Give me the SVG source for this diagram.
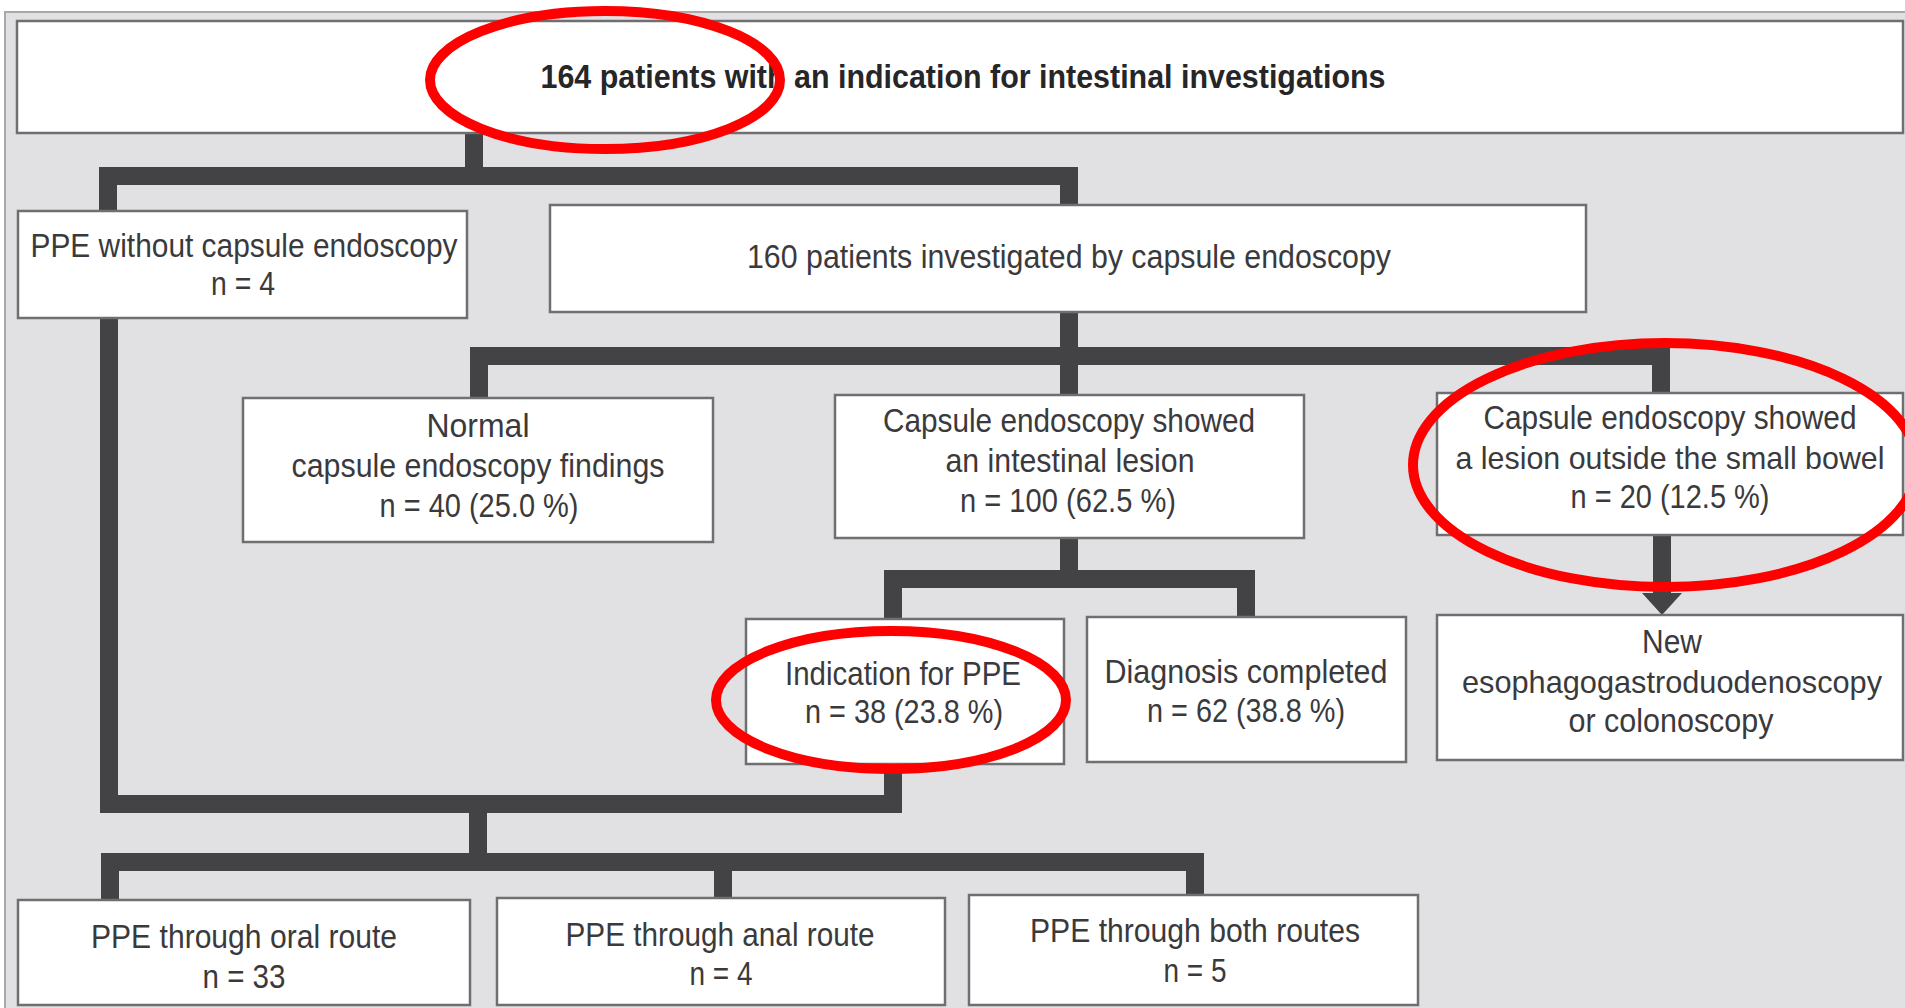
<svg xmlns="http://www.w3.org/2000/svg" width="1905" height="1008" viewBox="0 0 1905 1008">
<defs>
<style>
.box{fill:#ffffff;stroke:#6f6f72;stroke-width:2.5}
.t{font-family:"Liberation Sans",Arial,sans-serif;font-size:33px;fill:#3a3a3c;text-anchor:middle}
.ts{font-size:32px}
.tb{font-family:"Liberation Sans",Arial,sans-serif;font-size:34px;font-weight:bold;fill:#262628;text-anchor:middle}
.c{fill:none;stroke:#434346;stroke-width:18;stroke-linejoin:miter;stroke-linecap:butt}
.ring{fill:none;stroke:#ff0000;stroke-width:10}
</style>
<marker id="ah" markerUnits="userSpaceOnUse" viewBox="0 0 22 40" markerWidth="22" markerHeight="40" refX="0" refY="20" orient="auto">
<path d="M0,0 L22,20 L0,40 Z" fill="#434346"/>
</marker>
</defs>
<rect x="0" y="0" width="1905" height="1008" fill="#ffffff"/>
<rect x="5" y="12" width="1905" height="1000" fill="#e1e1e3" stroke="#a9a9ad" stroke-width="2"/>

<g id="connectors">
<path class="c" d="M474 133 V176"/>
<path class="c" d="M108 211 V176 H1069 V205"/>
<path class="c" d="M1069 312 V356"/>
<path class="c" d="M479 398 V356 H1661 V393"/>
<path class="c" d="M1069 356 V395"/>
<path class="c" d="M1069 538 V579"/>
<path class="c" d="M893 619 V579 H1246 V617"/>
<path class="c" d="M109 318 V804 H893 V764"/>
<path class="c" d="M478 804 V862"/>
<path class="c" d="M110 900 V862 H1195 V895"/>
<path class="c" d="M723 862 V898"/>
<path class="c" d="M1662 535 V593" marker-end="url(#ah)"/>
</g>

<g id="n-top">
<rect class="box" x="17" y="21" width="1886" height="112"/>
<text class="tb" x="963" y="88" textLength="845" lengthAdjust="spacingAndGlyphs">164 patients with an indication for intestinal investigations</text>
</g>

<g id="n-ppe-without">
<rect class="box" x="18" y="211" width="449" height="107"/>
<text class="t" x="244" y="257" textLength="427" lengthAdjust="spacingAndGlyphs">PPE without capsule endoscopy</text>
<text class="t" x="243" y="295" textLength="64" lengthAdjust="spacingAndGlyphs">n = 4</text>
</g>

<g id="n-160">
<rect class="box" x="550" y="205" width="1036" height="107"/>
<text class="t" x="1069" y="268" textLength="644" lengthAdjust="spacingAndGlyphs">160 patients investigated by capsule endoscopy</text>
</g>

<g id="n-normal">
<rect class="box" x="243" y="398" width="470" height="144"/>
<text class="t" x="478" y="437" textLength="103" lengthAdjust="spacingAndGlyphs">Normal</text>
<text class="t" x="478" y="477" textLength="373" lengthAdjust="spacingAndGlyphs">capsule endoscopy findings</text>
<text class="t" x="479" y="517" textLength="199" lengthAdjust="spacingAndGlyphs">n = 40 (25.0 %)</text>
</g>

<g id="n-lesion">
<rect class="box" x="835" y="395" width="469" height="143"/>
<text class="t" x="1069" y="432" textLength="372" lengthAdjust="spacingAndGlyphs">Capsule endoscopy showed</text>
<text class="t" x="1070" y="472" textLength="249" lengthAdjust="spacingAndGlyphs">an intestinal lesion</text>
<text class="t" x="1068" y="512" textLength="216" lengthAdjust="spacingAndGlyphs">n = 100 (62.5 %)</text>
</g>

<g id="n-outside">
<rect class="box" x="1437" y="393" width="466" height="142"/>
<text class="t" x="1670" y="429" textLength="373" lengthAdjust="spacingAndGlyphs">Capsule endoscopy showed</text>
<text class="t ts" x="1670" y="469" textLength="429" lengthAdjust="spacingAndGlyphs">a lesion outside the small bowel</text>
<text class="t" x="1670" y="508" textLength="199" lengthAdjust="spacingAndGlyphs">n = 20 (12.5 %)</text>
</g>

<g id="n-new">
<rect class="box" x="1437" y="615" width="466" height="145"/>
<text class="t" x="1672" y="653" textLength="60" lengthAdjust="spacingAndGlyphs">New</text>
<text class="t ts" x="1672" y="693" textLength="420" lengthAdjust="spacingAndGlyphs">esophagogastroduodenoscopy</text>
<text class="t" x="1671" y="732" textLength="205" lengthAdjust="spacingAndGlyphs">or colonoscopy</text>
</g>

<g id="n-indication">
<rect class="box" x="746" y="619" width="318" height="145"/>
<text class="t" x="903" y="685" textLength="236" lengthAdjust="spacingAndGlyphs">Indication for PPE</text>
<text class="t" x="904" y="723" textLength="198" lengthAdjust="spacingAndGlyphs">n = 38 (23.8 %)</text>
</g>

<g id="n-diagnosis">
<rect class="box" x="1087" y="617" width="319" height="145"/>
<text class="t" x="1246" y="683" textLength="283" lengthAdjust="spacingAndGlyphs">Diagnosis completed</text>
<text class="t" x="1246" y="722" textLength="198" lengthAdjust="spacingAndGlyphs">n = 62 (38.8 %)</text>
</g>

<g id="n-oral">
<rect class="box" x="18" y="900" width="452" height="105"/>
<text class="t" x="244" y="948" textLength="306" lengthAdjust="spacingAndGlyphs">PPE through oral route</text>
<text class="t" x="244" y="988" textLength="83" lengthAdjust="spacingAndGlyphs">n = 33</text>
</g>

<g id="n-anal">
<rect class="box" x="497" y="898" width="448" height="107"/>
<text class="t" x="720" y="946" textLength="309" lengthAdjust="spacingAndGlyphs">PPE through anal route</text>
<text class="t" x="721" y="985" textLength="63" lengthAdjust="spacingAndGlyphs">n = 4</text>
</g>

<g id="n-both">
<rect class="box" x="969" y="895" width="449" height="110"/>
<text class="t" x="1195" y="942" textLength="330" lengthAdjust="spacingAndGlyphs">PPE through both routes</text>
<text class="t" x="1195" y="982" textLength="63" lengthAdjust="spacingAndGlyphs">n = 5</text>
</g>

<g id="highlights">
<ellipse class="ring" cx="605" cy="80" rx="175" ry="69"/>
<ellipse class="ring" cx="891" cy="700" rx="175" ry="69"/>
<ellipse class="ring" cx="1665" cy="465" rx="252" ry="122"/>
</g>
</svg>
